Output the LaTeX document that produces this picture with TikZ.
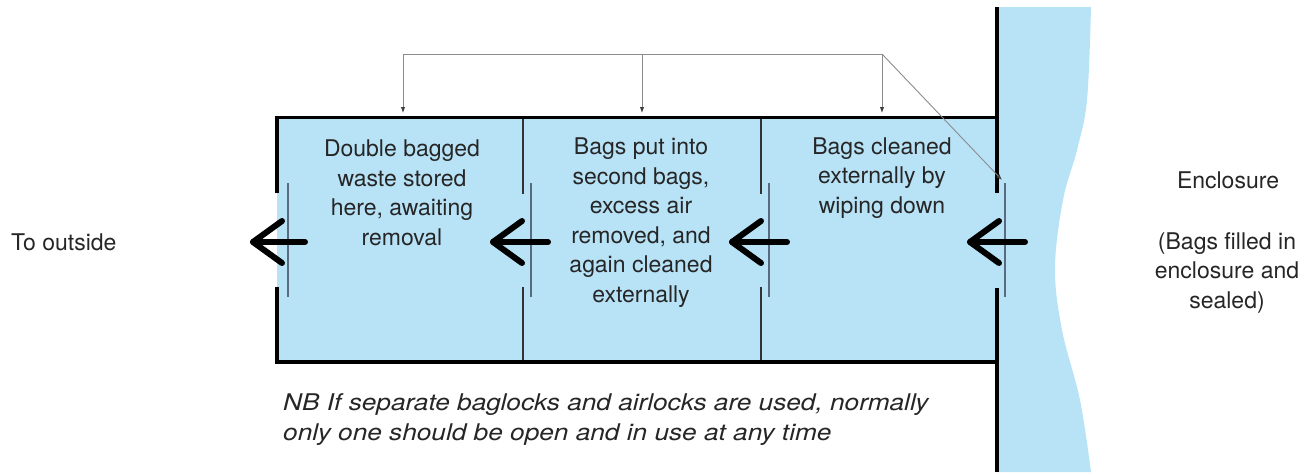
\documentclass[tikz,border=0pt]{standalone}
\usepackage{fontspec}
\setmainfont{TeX Gyre Heros}
\newfontfamily\nbfont[FakeStretch=1.14]{TeX Gyre Heros}
\usetikzlibrary{arrows.meta}
\definecolor{encblue}{RGB}{184,227,247}
\definecolor{doorcol}{RGB}{90,106,128}
\definecolor{leadgray}{RGB}{140,140,140}
\tikzset{
  wallline/.style={line width=3.5pt, black},
  divline/.style={line width=1.6pt, black!80},
  doorline/.style={line width=1.5pt, doorcol},
  flowarrow/.style={line width=6pt, line cap=round, line join=round, black},
  leader/.style={line width=0.9pt, leadgray},
  leadtip/.style={leader, -{Latex[length=6pt,width=4.5pt,color=black!75]}},
  lbl/.style={font=\fontsize{23}{29.5}\selectfont, text=black!85, align=center, inner sep=0pt},
  nbtext/.style={font=\nbfont\fontsize{23}{30}\selectfont\itshape, text=black!85, align=left, inner sep=0pt, anchor=west}
}
\begin{document}
\begin{tikzpicture}[x=1pt,y=-1pt]
\useasboundingbox (0,0) rectangle (1311,472);
% enclosure blue region
\fill[encblue] (997,7) -- plot[smooth, tension=0.6] coordinates {(1091,7) (1087,100) (1077,150) (1063,200) (1055,268) (1062,330) (1080,400) (1091,472)} -- (997,472) -- cycle;
% box fill
\fill[encblue] (277,119) rectangle (997,360);
% outer walls of the box
\draw[wallline] (277,193) -- (277,117.25) -- (997,117.25);
\draw[wallline] (277,287) -- (277,361.75) -- (997,361.75);
% enclosure wall
\draw[wallline] (997,7) -- (997,193);
\draw[wallline] (997,288) -- (997,472);
% dividers
\draw[divline] (523,119) -- (523,194);
\draw[divline] (523,287) -- (523,360);
\draw[divline] (761,119) -- (761,194);
\draw[divline] (761,287) -- (761,360);
% doors
\draw[doorline] (288,183) -- (288,297);
\draw[doorline] (531,183) -- (531,297);
\draw[doorline] (769,183) -- (769,297);
\draw[doorline] (1005,183) -- (1005,297);
% top leaders
\coordinate (b1) at (403,54);
\coordinate (b2) at (642,54);
\coordinate (b3) at (882,54);
\coordinate (t1) at (403,113);
\coordinate (t2) at (642,113);
\coordinate (t3) at (882,113);
\coordinate (t4) at (1002,180);
\draw[leader] (b1) -- (b3);
\draw[leadtip] (b1) -- (t1);
\draw[leadtip] (b2) -- (t2);
\draw[leadtip] (b3) -- (t3);
\draw[leadtip] (b3) -- (t4);
% flow arrows
\foreach \tip/\tail [count=\i] in {253/305, 493/548, 732/787, 970/1025} {
  \coordinate (a\i tip) at (\tip,242);
  \coordinate (a\i tail) at (\tail,242);
  \draw[flowarrow] (a\i tail) -- (a\i tip);
  \draw[flowarrow] ([shift={(29,-21)}]a\i tip) -- (a\i tip) -- ([shift={(29,21)}]a\i tip);
}
% labels
\node[lbl] (s1) at (402,193) {Double bagged\\waste stored\\here, awaiting\\removal};
\node[lbl] (s2) at (641,222.5) {Bags put into\\second bags,\\excess air\\removed, and\\again cleaned\\externally};
\node[lbl] (s3) at (882,178) {Bags cleaned\\externally by\\wiping down};
\node[lbl, anchor=west] (out) at (11,242) {To outside};
\node[lbl] (enc) at (1228,180) {Enclosure};
\node[lbl] (fill) at (1227,273) {(Bags filled in\\enclosure and\\sealed)};
\node[nbtext] (nb) at (283,420) {NB If separate baglocks and airlocks are used, normally\\only one should be open and in use at any time};
\end{tikzpicture}
\end{document}
